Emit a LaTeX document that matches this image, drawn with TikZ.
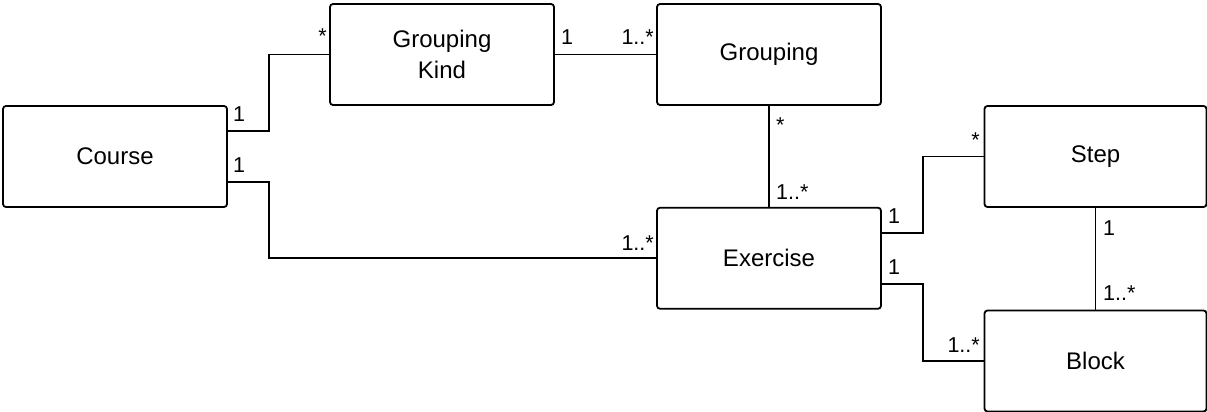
\documentclass[tikz,border=0pt]{standalone}
\usepackage{fontspec}
\setmainfont{Liberation Sans}
\begin{document}
\begin{tikzpicture}[x=1pt,y=-1pt,
  entity/.style={draw, line width=1.8pt, rounded corners=3pt, minimum width=224pt,
    minimum height=101pt, inner sep=0pt, align=center,
    font=\fontsize{24}{31.5}\selectfont},
  link/.style={line width=1.6pt},
  mult/.style={inner sep=0pt, font=\fontsize{21.5}{25}\selectfont}]
  \useasboundingbox (0,0) rectangle (1207,412);

  % classes
  \node[entity] (course)   at (115,156.5)    {Course};
  \node[entity] (gkind)    at (442,54.5)     {Grouping\\Kind};
  \node[entity] (grouping) at (769,54.5)     {Grouping};
  \node[entity] (exercise) at (769,258.25)   {Exercise};
  \node[entity, minimum width=222pt] (step)  at (1095.5,156.5) {Step};
  \node[entity, minimum width=222pt] (block) at (1095.5,361)   {Block};

  % associations
  \draw[link] ([yshift=25.5pt]course.east) -- ++(41,0) |- (gkind.west);
  \draw[link] ([yshift=-25.5pt]course.east) -- ++(41,0) |- (exercise.west);
  \draw[link] (gkind.east) -- (grouping.west);
  \draw[link] (grouping.south) -- (exercise.north);
  \draw[link] ([yshift=25pt]exercise.east) -- ++(41,0) |- (step.west);
  \draw[link] ([yshift=-26pt]exercise.east) -- ++(41,0) |- (block.west);
  \draw[link] (step.south) -- (block.north);

  % multiplicities
  \node[mult, anchor=base west] (m1)  at (233,121)  {1};
  \node[mult, anchor=base east] (m2)  at (327,44)   {*};
  \node[mult, anchor=base west] (m3)  at (233,172)  {1};
  \node[mult, anchor=base east] (m4)  at (654,250)  {1..*};
  \node[mult, anchor=base west] (m5)  at (561,45)   {1};
  \node[mult, anchor=base east] (m6)  at (654,45)   {1..*};
  \node[mult, anchor=base west] (m7)  at (776,132)  {*};
  \node[mult, anchor=base west] (m8)  at (776,199)  {1..*};
  \node[mult, anchor=base west] (m9)  at (888,223)  {1};
  \node[mult, anchor=base east] (m10) at (980,147)  {*};
  \node[mult, anchor=base west] (m11) at (888,274)  {1};
  \node[mult, anchor=base east] (m12) at (980,352)  {1..*};
  \node[mult, anchor=base west] (m13) at (1103,235) {1};
  \node[mult, anchor=base west] (m14) at (1103,300) {1..*};
\end{tikzpicture}
\end{document}
